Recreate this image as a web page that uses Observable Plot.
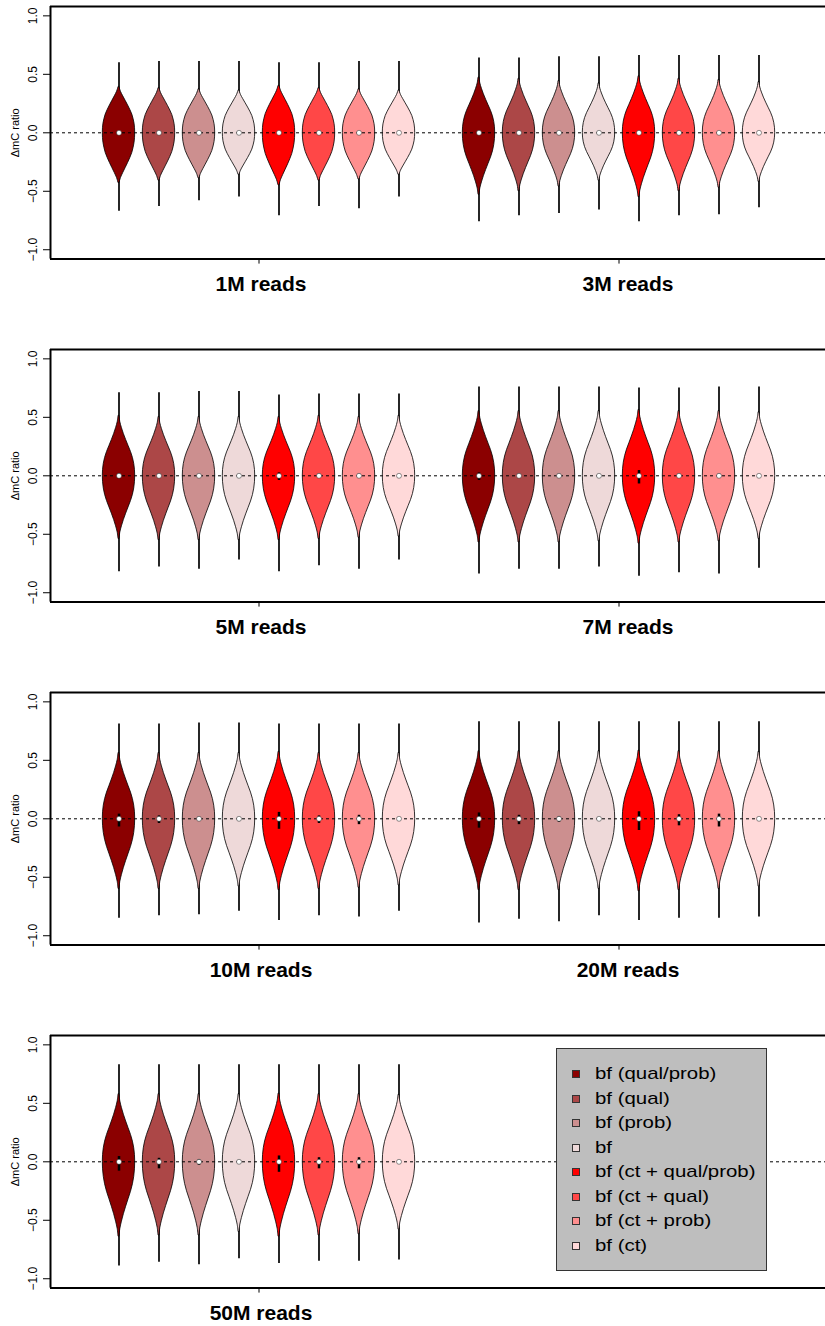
<!DOCTYPE html>
<html>
<head>
<meta charset="utf-8">
<script src="https://cdn.jsdelivr.net/npm/d3@7"></script>
<script src="https://cdn.jsdelivr.net/npm/@observablehq/plot@0.6"></script>
<style>
  body { margin: 0; background: #fff; }
  #chart { position: relative; width: 825px; height: 1326px; font-family: "Liberation Sans", Arial, Helvetica, sans-serif; overflow: hidden; }
  #chart svg { display: block; }
  #legend { position: absolute; left: 556px; top: 1048px; width: 209px; height: 221px; background: #bebebe; border: 1px solid #333; }
  #legend .item { position: absolute; left: 0; height: 24px; width: 200px; }
  #legend .sw { position: absolute; left: 15px; top: 8px; width: 6px; height: 6px; border: 1px solid #333; }
  #legend .lab { position: absolute; left: 38px; top: 0; line-height: 24px; font-size: 17px; color: #000; white-space: nowrap; transform: scaleX(1.2); transform-origin: 0 50%; }
</style>
</head>
<body>
<div id="chart"></div>
<script>
// ---------------- data ----------------
const groups = ["1M reads", "3M reads", "5M reads", "7M reads", "10M reads", "20M reads", "50M reads"];
const methods = ["bf (qual/prob)", "bf (qual)", "bf (prob)", "bf", "bf (ct + qual/prob)", "bf (ct + qual)", "bf (ct + prob)", "bf (ct)"];
const colors = ["#8B0000", "#AC4747", "#CC8F8F", "#EED9D9", "#FF0000", "#FF4747", "#FF8F8F", "#FFD9D9"];
const yTicks = [-1, -0.5, 0, 0.5, 1];

// upper / lower extreme of each violin (thin tails), one row per read depth
const whiskerMax = [
  [0.60, 0.61, 0.61, 0.61, 0.60, 0.60, 0.61, 0.61],
  [0.64, 0.64, 0.65, 0.65, 0.66, 0.66, 0.66, 0.66],
  [0.71, 0.71, 0.72, 0.72, 0.69, 0.70, 0.70, 0.70],
  [0.76, 0.76, 0.76, 0.76, 0.75, 0.75, 0.76, 0.76],
  [0.81, 0.81, 0.82, 0.82, 0.81, 0.81, 0.81, 0.81],
  [0.83, 0.83, 0.83, 0.83, 0.83, 0.83, 0.83, 0.83],
  [0.83, 0.83, 0.83, 0.83, 0.83, 0.83, 0.83, 0.83]
];
const whiskerMin = [
  [-0.67, -0.63, -0.58, -0.55, -0.71, -0.63, -0.65, -0.55],
  [-0.76, -0.71, -0.69, -0.66, -0.76, -0.71, -0.70, -0.64],
  [-0.82, -0.78, -0.80, -0.72, -0.82, -0.77, -0.80, -0.72],
  [-0.84, -0.80, -0.80, -0.78, -0.86, -0.83, -0.84, -0.79],
  [-0.85, -0.83, -0.82, -0.79, -0.87, -0.83, -0.84, -0.79],
  [-0.89, -0.86, -0.88, -0.83, -0.87, -0.85, -0.85, -0.84],
  [-0.89, -0.86, -0.88, -0.83, -0.87, -0.85, -0.85, -0.84]
];
// where the filled body of each violin ends above and below the median
const bodyTop = [
  [0.39, 0.38, 0.37, 0.36, 0.40, 0.38, 0.37, 0.36],
  [0.47, 0.46, 0.44, 0.42, 0.48, 0.46, 0.45, 0.43],
  [0.51, 0.50, 0.50, 0.50, 0.50, 0.51, 0.50, 0.51],
  [0.55, 0.55, 0.55, 0.55, 0.56, 0.55, 0.55, 0.54],
  [0.56, 0.56, 0.56, 0.56, 0.57, 0.56, 0.56, 0.56],
  [0.575, 0.575, 0.575, 0.575, 0.58, 0.575, 0.575, 0.57],
  [0.575, 0.575, 0.575, 0.575, 0.58, 0.575, 0.575, 0.57]
];
const bodyBottom = [
  [0.43, 0.41, 0.39, 0.36, 0.45, 0.41, 0.40, 0.36],
  [0.53, 0.50, 0.46, 0.41, 0.55, 0.50, 0.47, 0.42],
  [0.54, 0.55, 0.55, 0.55, 0.55, 0.54, 0.53, 0.52],
  [0.57, 0.57, 0.57, 0.56, 0.58, 0.57, 0.56, 0.54],
  [0.60, 0.60, 0.60, 0.58, 0.61, 0.60, 0.59, 0.57],
  [0.61, 0.61, 0.61, 0.60, 0.62, 0.61, 0.60, 0.58],
  [0.64, 0.63, 0.63, 0.60, 0.64, 0.63, 0.62, 0.58]
];
// interquartile box
const boxHi = [
  [0.01, 0.01, 0.01, 0.01, 0.01, 0.01, 0.01, 0.01],
  [0.015, 0.015, 0.01, 0.01, 0.015, 0.015, 0.01, 0.01],
  [0.02, 0.015, 0.01, 0.01, 0.025, 0.015, 0.015, 0.01],
  [0.025, 0.015, 0.015, 0.01, 0.045, 0.015, 0.015, 0.01],
  [0.04, 0.025, 0.015, 0.01, 0.055, 0.025, 0.03, 0.01],
  [0.05, 0.03, 0.02, 0.01, 0.06, 0.035, 0.04, 0.01],
  [0.045, 0.03, 0.02, 0.01, 0.05, 0.035, 0.035, 0.01]
];
const boxLo = [
  [-0.01, -0.01, -0.01, -0.01, -0.01, -0.01, -0.01, -0.01],
  [-0.015, -0.015, -0.01, -0.01, -0.015, -0.015, -0.01, -0.01],
  [-0.025, -0.02, -0.01, -0.01, -0.04, -0.02, -0.02, -0.01],
  [-0.04, -0.02, -0.015, -0.01, -0.07, -0.02, -0.02, -0.01],
  [-0.07, -0.04, -0.02, -0.01, -0.09, -0.04, -0.05, -0.01],
  [-0.08, -0.05, -0.03, -0.01, -0.10, -0.06, -0.07, -0.01],
  [-0.08, -0.06, -0.03, -0.01, -0.09, -0.06, -0.06, -0.01]
];
const medians = [
  [0, 0, 0, 0, 0, 0, 0, 0],
  [0, 0, 0, 0, 0, 0, 0, 0],
  [0, 0, 0, 0, 0, 0, 0, 0],
  [0, 0, 0, 0, 0, 0, 0, 0],
  [0, 0, 0, 0, 0, 0, 0, 0],
  [0, 0, 0, 0, 0, 0, 0, 0],
  [0, 0, 0, 0, 0, 0, 0, 0]
];
// violin outline: relative half-width at fractional distance t from the median to the body end
const profileT = [0, 0.1, 0.2, 0.3, 0.4, 0.5, 0.6, 0.7, 0.8, 0.9, 1];
const profileRound = [1, 0.99, 0.96, 0.9, 0.82, 0.7, 0.56, 0.41, 0.26, 0.12, 0.03];
const profileKite = [1, 0.985, 0.94, 0.86, 0.74, 0.59, 0.44, 0.3, 0.18, 0.08, 0.03];
const groupProfile = [profileRound, profileKite, profileKite, profileKite, profileKite, profileKite, profileKite];

// ---------------- layout ----------------
const panels = [[0, 1], [2, 3], [4, 5], [6]];
const xDomain = [-0.7125, 18.6625];
const yDomain = [-1.08, 1.08];
const halfWidth = 0.405;
const labelDx = [2, 9];
const font = "'Liberation Sans', Arial, Helvetica, sans-serif";

function buildPanel(slots, isLast) {
  const violins = [];
  slots.forEach((gi, s) => methods.forEach((m, mi) => violins.push({gi, mi, pos: s * 9 + mi + 1, id: gi + "-" + mi})));
  const pts = [];
  for (const v of violins) {
    const prof = groupProfile[v.gi];
    const med = medians[v.gi][v.mi];
    const top = bodyTop[v.gi][v.mi], bot = bodyBottom[v.gi][v.mi];
    const col = colors[v.mi];
    for (let k = profileT.length - 1; k >= 0; k--) {
      const w = prof[k] * halfWidth;
      pts.push({id: v.id, color: col, y: med + profileT[k] * top, x1: v.pos - w, x2: v.pos + w});
    }
    for (let k = 1; k < profileT.length; k++) {
      const w = prof[k] * halfWidth;
      pts.push({id: v.id, color: col, y: med - profileT[k] * bot, x1: v.pos - w, x2: v.pos + w});
    }
  }
  const height = isLast ? 297 : 343;
  const marginTop = 6;
  const marginBottom = height - marginTop - 252.6;
  const marks = [
    Plot.ruleX(violins, {x: "pos", y1: v => whiskerMin[v.gi][v.mi], y2: v => whiskerMax[v.gi][v.mi], stroke: "black", strokeWidth: 1.7}),
    Plot.areaX(pts, {y: "y", x1: "x1", x2: "x2", z: "id", fill: "color", stroke: "black", strokeWidth: 0.8, curve: "catmull-rom"}),
    Plot.ruleY([0], {stroke: "black", strokeWidth: 1, strokeDasharray: "3,3"}),
    Plot.ruleX(violins, {x: "pos", y1: v => boxLo[v.gi][v.mi], y2: v => boxHi[v.gi][v.mi], stroke: "black", strokeWidth: 2.5}),
    Plot.dot(violins, {x: "pos", y: v => medians[v.gi][v.mi], r: 2.5, fill: "white", stroke: "#222", strokeWidth: 0.5}),
    Plot.ruleY(yDomain, {stroke: "black", strokeWidth: 2}),
    Plot.ruleX([xDomain[0]], {stroke: "black", strokeWidth: 2}),
    Plot.text(yTicks, {x: xDomain[0], y: d => d, text: d => d3.format(".1f")(d), rotate: -90, dx: -17, fontSize: 12, fill: "black"}),
    Plot.text(["\u0394mC ratio"], {x: xDomain[0], y: 0, text: d => d, rotate: -90, dx: -35, fontSize: 11, fill: "black"})
  ];
  slots.forEach((gi, s) => {
    marks.push(Plot.text([gi], {x: s * 9 + 4.5, y: yDomain[0], text: d => groups[d], dy: 25, dx: labelDx[s], fontSize: 21, fontWeight: "bold", fill: "black"}));
  });
  return Plot.plot({
    width: 825, height, marginLeft: 50, marginRight: 0, marginTop, marginBottom,
    style: {fontFamily: font, background: "white", overflow: "visible", color: "black"},
    color: {type: "identity"},
    x: {domain: xDomain, ticks: slots.map((g, s) => s * 9 + 4.5), tickSize: 5, tickFormat: () => "", label: null},
    y: {domain: yDomain, ticks: yTicks, tickSize: 7, tickFormat: () => "", label: null},
    marks
  });
}

const chart = document.getElementById("chart");
panels.forEach((slots, p) => chart.appendChild(buildPanel(slots, p === panels.length - 1)));

// legend
const legend = document.createElement("div");
legend.id = "legend";
methods.forEach((m, i) => {
  const item = document.createElement("div");
  item.className = "item";
  item.style.top = (13.3 + 24.5 * i) + "px";
  const sw = document.createElement("div");
  sw.className = "sw";
  sw.style.background = colors[i];
  const lab = document.createElement("div");
  lab.className = "lab";
  lab.textContent = m;
  item.appendChild(sw);
  item.appendChild(lab);
  legend.appendChild(item);
});
chart.appendChild(legend);
</script>
</body>
</html>
